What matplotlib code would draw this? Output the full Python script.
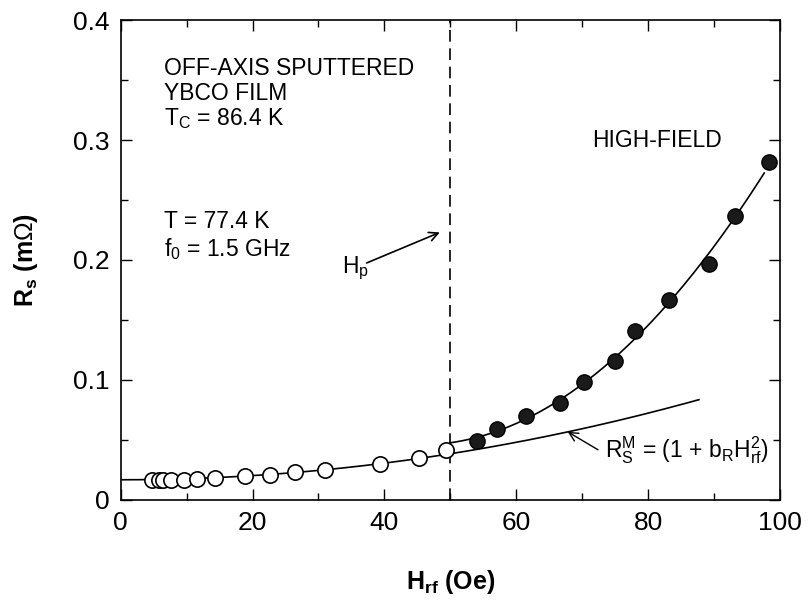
import numpy as np
import matplotlib
matplotlib.use("Agg")
import matplotlib.pyplot as plt
from matplotlib.ticker import MultipleLocator

plt.rcParams['font.family'] = ['Liberation Sans', 'DejaVu Sans']
plt.rcParams['mathtext.fontset'] = 'custom'
plt.rcParams['mathtext.rm'] = 'Liberation Sans'
plt.rcParams['mathtext.it'] = 'Liberation Sans:italic'
plt.rcParams['mathtext.bf'] = 'Liberation Sans:bold'

# Low-field data (open circles)
h_low = [4.8, 5.8, 6.4, 7.7, 9.6, 11.6, 14.3, 18.9, 22.6, 26.5, 31.0, 39.3, 45.2, 49.4]
rs_low = [0.0167, 0.0167, 0.0168, 0.0168, 0.0169, 0.0172, 0.0178, 0.0200, 0.0210,
          0.0230, 0.0250, 0.0300, 0.0350, 0.0417]

# High-field data (filled circles)
h_high = [54.0, 57.1, 61.5, 66.7, 70.3, 75.0, 78.0, 83.1, 89.3, 93.2, 98.3]
rs_high = [0.0494, 0.0589, 0.0703, 0.0811, 0.0981, 0.1158, 0.1408, 0.1667,
           0.1967, 0.2367, 0.2819]

x_ticks = [0, 20, 40, 60, 80, 100]
y_ticks = [0, 0.1, 0.2, 0.3, 0.4]
x_tick_labels = ['0', '20', '40', '60', '80', '100']
y_tick_labels = ['0', '0.1', '0.2', '0.3', '0.4']

# Quadratic model parameters R_s^M = R0 (1 + b_R H_rf^2)
r0 = 0.0167
b_r = 5.2e-4
h_model_max = 87.7
h_p = 50.0
h_fit_max = 97.6

fig = plt.figure(figsize=(8.1, 6.11), dpi=100)
ax = fig.add_axes([0.149, 0.182, 0.814, 0.785])

# model curve
hm = np.linspace(0, h_model_max, 200)
ax.plot(hm, r0 * (1 + b_r * hm**2), color='black', lw=1.2, zorder=2)

# high-field fit curve through the filled points
coef = np.polyfit(h_high, rs_high, 2)
hh = np.linspace(h_p, h_fit_max, 200)
ax.plot(hh, np.polyval(coef, hh), color='black', lw=1.2, zorder=2)

ax.plot(h_low, rs_low, 'o', ms=11, mfc='white', mec='black', mew=1.2, zorder=3)
ax.plot(h_high, rs_high, 'o', ms=11, mfc='#1a1a1a', mec='black', mew=1.0, zorder=3)

ax.axvline(h_p, color='black', lw=1.2, dashes=(7, 4), zorder=1)

ax.set_xlim(0, 100)
ax.set_ylim(0, 0.4)
ax.set_xticks(x_ticks)
ax.set_xticklabels(x_tick_labels)
ax.set_yticks(y_ticks)
ax.set_yticklabels(y_tick_labels)
ax.xaxis.set_minor_locator(MultipleLocator(10))
ax.yaxis.set_minor_locator(MultipleLocator(0.05))
ax.tick_params(which='both', direction='in', top=True, right=True, width=1.0)
ax.tick_params(which='major', length=8, labelsize=19, pad=8)
ax.tick_params(which='minor', length=5)
for s in ax.spines.values():
    s.set_linewidth(1.2)

ax.set_xlabel(r'H$_\mathbf{rf}$ (Oe)', fontsize=18, fontweight='bold', labelpad=24)
ax.set_ylabel(r'R$_\mathbf{s}$ (m$\Omega$)', fontsize=18, fontweight='bold', labelpad=24)

fs = 16.5
ax.text(6.5, 0.360, 'OFF-AXIS SPUTTERED', fontsize=fs, va='center')
ax.text(6.5, 0.339, 'YBCO FILM', fontsize=fs, va='center')
ax.text(6.5, 0.318, r'T$_\mathrm{C}$ = 86.4 K', fontsize=fs, va='center')
ax.text(6.5, 0.232, 'T = 77.4 K', fontsize=fs, va='center')
ax.text(6.5, 0.209, r'f$_\mathrm{0}$ = 1.5 GHz', fontsize=fs, va='center')
ax.text(71.5, 0.300, 'HIGH-FIELD', fontsize=fs, va='center')

ax.text(33.5, 0.193, r'H$_\mathrm{p}$', fontsize=fs, va='center', ha='left')
ax.annotate('', xy=(48.4, 0.223), xytext=(37.3, 0.1975),
            arrowprops=dict(arrowstyle='->', color='black', lw=1.2,
                            shrinkA=0, shrinkB=0, mutation_scale=16))

ax.text(73.5, 0.041,
        r'R$_\mathrm{S}^\mathrm{M}$ = (1 + b$_\mathrm{R}$H$_\mathrm{rf}^\mathrm{2}$)',
        fontsize=fs, va='center', ha='left')
ax.annotate('', xy=(67.8, 0.0567), xytext=(72.4, 0.0417),
            arrowprops=dict(arrowstyle='->', color='black', lw=1.0,
                            shrinkA=0, shrinkB=0, mutation_scale=16))

fig.savefig('out.png', dpi=100)
